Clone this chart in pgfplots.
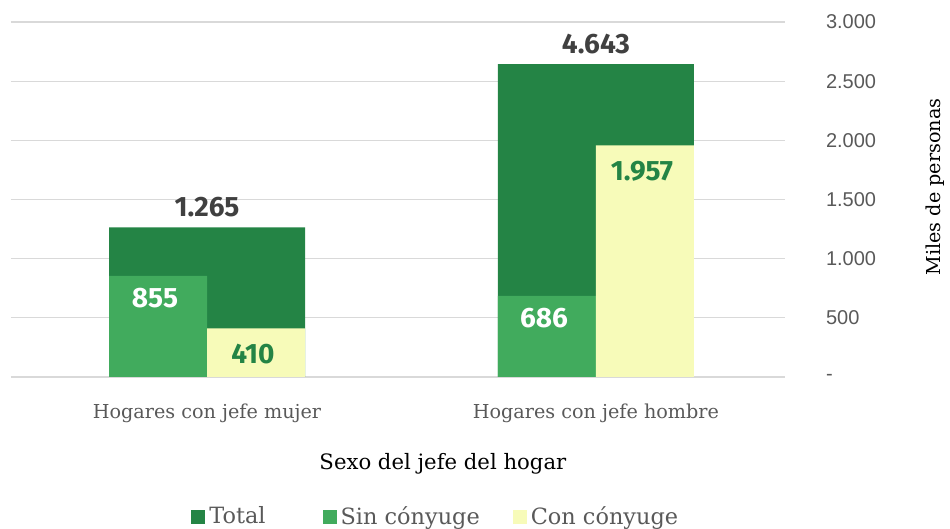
\documentclass[border=0pt]{standalone}
\usepackage{fontspec}
\setmainfont{DejaVu Serif}
\setsansfont{Liberation Sans}
\newfontfamily\labfont{Fira Sans}
\usepackage{pgfplots}
\pgfplotsset{compat=1.18}

\definecolor{cTotal}{HTML}{248445}
\definecolor{cSin}{HTML}{41AB5D}
\definecolor{cCon}{HTML}{F7FBB9}
\definecolor{cGrid}{HTML}{D9D9D9}
\definecolor{cText}{HTML}{595959}
\definecolor{cLab}{HTML}{404040}

\begin{document}
\begin{tikzpicture}
\useasboundingbox (-5.5pt,-76pt) rectangle (469.5pt,188.5pt);
\begin{axis}[
  scale only axis,
  width=387pt,
  height=177.5pt,
  xmin=-0.504, xmax=1.486,
  ymin=0, ymax=3000,
  axis line style={draw=none},
  ytick={0,500,1000,1500,2000,2500,3000},
  yticklabels={-,500,1.000,1.500,2.000,2.500,3.000},
  ytick pos=right,
  yticklabel pos=right,
  yticklabel style={anchor=west, font=\sffamily\fontsize{10}{12}\selectfont, text=cText, xshift=17pt},
  xtick={0,1},
  xticklabels={Hogares con jefe mujer, Hogares con jefe hombre},
  xticklabel style={font=\fontsize{9.6}{11}\selectfont, text=cText, anchor=center, yshift=-18pt},
  major tick length=0pt,
  ymajorgrids,
  grid style={cGrid, line width=0.6pt},
  extra y ticks={0},
  extra y tick labels={},
  extra y tick style={grid style={cGrid, line width=0.8pt}},
  xlabel={Sexo del jefe del hogar},
  xlabel style={at={(axis description cs:0.558,-0.245)}, anchor=center, font=\fontsize{10.6}{12}\selectfont},
  ylabel={Miles de personas},
  ylabel style={at={(axis description cs:1.194,0.535)}, anchor=center, rotate=0, font=\fontsize{9.6}{11}\selectfont},
  legend columns=3,
  legend style={at={(0.2326,-0.394)}, anchor=west, draw=none, fill=none, inner sep=0pt,
    font=\fontsize{11.2}{13}\selectfont, text=cText,
    /tikz/every even column/.append style={column sep=14.5pt}},
  legend image code/.code={\fill[#1] (0pt,-3.5pt) rectangle (7pt,3.5pt);},
  point meta=explicit symbolic,
  clip=false,
]

% Total (bar height from the two parts; label as printed in the source)
\addplot[ybar, bar width=0.504, bar shift=0, fill=cTotal, draw=none,
  nodes near coords,
  every node near coord/.append style={anchor=center, yshift=10pt, text=cLab,
    font=\labfont\bfseries\fontsize{14}{16}\selectfont}]
  coordinates {(0,1265) [1.265] (1,2643) [4.643]};
\addlegendentry{Total\rule{12pt}{0pt}}

\addplot[ybar, bar width=0.252, bar shift=-0.126, fill=cSin, draw=none,
  nodes near coords,
  every node near coord/.append style={anchor=center, xshift=-26pt, yshift=-11pt, text=white,
    font=\labfont\bfseries\fontsize{14}{16}\selectfont}]
  coordinates {(0,855) [855] (1,686) [686]};
\addlegendentry{Sin cónyuge}

\addplot[ybar, bar width=0.252, bar shift=0.126, fill=cCon, draw=none,
  nodes near coords,
  every node near coord/.append style={anchor=center, xshift=23pt, yshift=-13pt, text=cTotal,
    font=\labfont\bfseries\fontsize{14}{16}\selectfont}]
  coordinates {(0,410) [410] (1,1957) [1.957]};
\addlegendentry{Con cónyuge}

\end{axis}
\end{tikzpicture}
\end{document}
